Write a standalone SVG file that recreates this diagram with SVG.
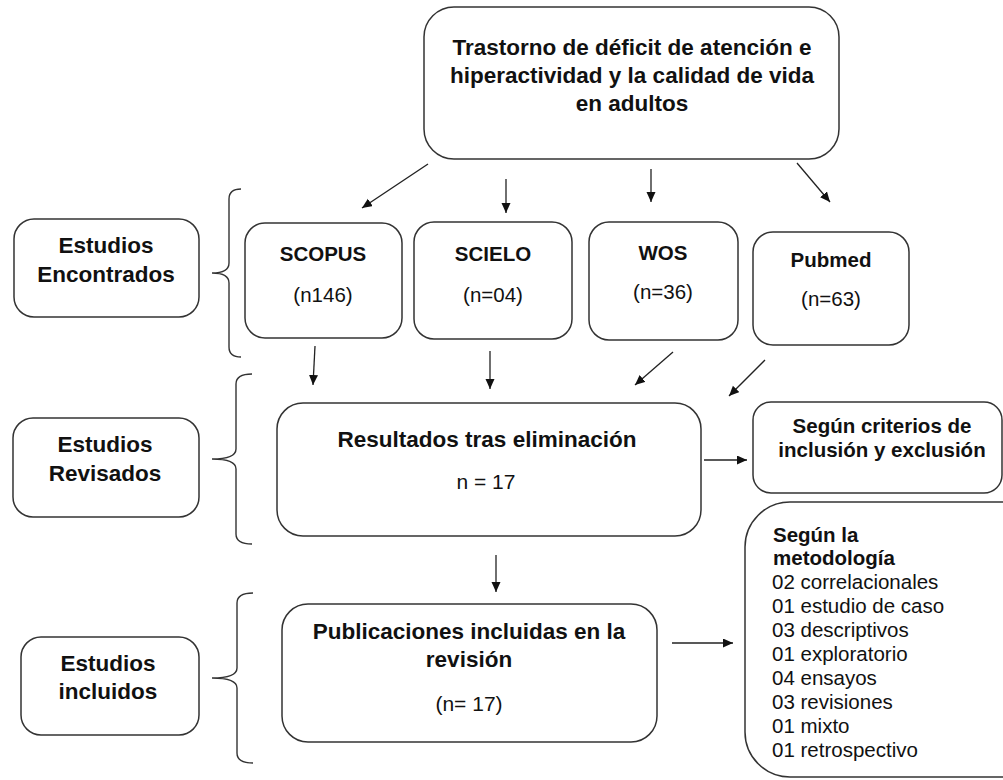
<svg xmlns="http://www.w3.org/2000/svg" width="1003" height="780" viewBox="0 0 1003 780">
<style>
.box{fill:#fff;stroke:#333;stroke-width:1.5}
.br{fill:none;stroke:#333;stroke-width:1.4}
.ln{fill:none;stroke:#222;stroke-width:1.3;marker-end:url(#ah)}
text{font-family:"Liberation Sans",Arial,sans-serif;fill:#111}
.b{font-weight:bold;font-size:22.5px}
.bs{font-weight:bold;font-size:20.5px}
.r{font-size:21px}
.rs{font-size:20.5px}
.c{text-anchor:middle}
</style>
<defs>
<marker id="ah" markerUnits="userSpaceOnUse" markerWidth="11" markerHeight="10" refX="10" refY="4.5" orient="auto">
<path d="M0,0 L10,4.5 L0,9 z" fill="#111"/>
</marker>
</defs>
<rect width="1003" height="780" fill="#fff"/>

<g id="top">
<rect class="box" x="424" y="7" width="415" height="152" rx="30"/>
<text class="b c" x="632" y="55">Trastorno de déficit de atención e</text>
<text class="b c" x="632" y="83">hiperactividad y la calidad de vida</text>
<text class="b c" x="632" y="111">en adultos</text>
</g>

<g id="enc">
<rect class="box" x="14" y="219" width="185" height="98" rx="20"/>
<text class="b c" x="106" y="253">Estudios</text>
<text class="b c" x="106" y="282">Encontrados</text>
</g>

<g id="rev">
<rect class="box" x="13" y="418" width="186" height="99" rx="20"/>
<text class="b c" x="105" y="452">Estudios</text>
<text class="b c" x="105" y="481">Revisados</text>
</g>

<g id="inc">
<rect class="box" x="21" y="637" width="178" height="98" rx="20"/>
<text class="b c" x="108" y="671">Estudios</text>
<text class="b c" x="108" y="699">incluidos</text>
</g>

<g id="scopus">
<rect class="box" x="245" y="223" width="157" height="115" rx="20"/>
<text class="bs c" x="323" y="261">SCOPUS</text>
<text class="rs c" x="323" y="302">(n146)</text>
</g>

<g id="scielo">
<rect class="box" x="414" y="222" width="158" height="117" rx="20"/>
<text class="bs c" x="493" y="261">SCIELO</text>
<text class="rs c" x="493" y="302">(n=04)</text>
</g>

<g id="wos">
<rect class="box" x="589" y="222" width="149" height="118" rx="20"/>
<text class="bs c" x="663" y="260">WOS</text>
<text class="rs c" x="663" y="299">(n=36)</text>
</g>

<g id="pubmed">
<rect class="box" x="753" y="232" width="156" height="113" rx="20"/>
<text class="bs c" x="831" y="267">Pubmed</text>
<text class="rs c" x="831" y="306">(n=63)</text>
</g>

<g id="resultados">
<rect class="box" x="277" y="403" width="424" height="133" rx="26"/>
<text class="b c" x="487" y="447">Resultados tras eliminación</text>
<text class="r c" x="486" y="489">n = 17</text>
</g>

<g id="criterios">
<rect class="box" x="753" y="402" width="249" height="91" rx="18"/>
<text class="bs c" x="882" y="433">Según criterios de</text>
<text class="bs c" x="882" y="457">inclusión y exclusión</text>
</g>

<g id="publicaciones">
<rect class="box" x="282" y="604" width="375" height="138" rx="26"/>
<text class="b c" x="469" y="639">Publicaciones incluidas en la</text>
<text class="b c" x="469" y="667">revisión</text>
<text class="r c" x="469" y="711">(n= 17)</text>
</g>

<g id="metodologia">
<rect class="box" x="745" y="502" width="300" height="275" rx="45"/>
<text class="bs" x="773" y="542">Según la</text>
<text class="bs" x="773" y="565">metodología</text>
<text class="rs" x="772" y="589">02 correlacionales</text>
<text class="rs" x="772" y="613">01 estudio de caso</text>
<text class="rs" x="772" y="637">03 descriptivos</text>
<text class="rs" x="772" y="661">01 exploratorio</text>
<text class="rs" x="772" y="685">04 ensayos</text>
<text class="rs" x="772" y="709">03 revisiones</text>
<text class="rs" x="772" y="733">01 mixto</text>
<text class="rs" x="772" y="757">01 retrospectivo</text>
</g>

<g id="brackets">
<path class="br" d="M241,189 Q229,189 229,199 L229,263 Q229,273 212,273 Q229,273 229,283 L229,347 Q229,357 241,357"/>
<path class="br" d="M252,374 Q236,374 236,384 L236,449 Q236,459 212,459 Q236,459 236,469 L236,534 Q236,544 252,544"/>
<path class="br" d="M253,593 Q237,593 237,603 L237,668 Q237,678 212,678 Q237,678 237,688 L237,753 Q237,763 253,763"/>
</g>

<g id="connectors">
<line class="ln" x1="428" y1="164" x2="362" y2="208"/>
<line class="ln" x1="506" y1="179" x2="506" y2="213"/>
<line class="ln" x1="651" y1="169" x2="651" y2="202"/>
<line class="ln" x1="797" y1="163" x2="830" y2="202"/>
<line class="ln" x1="315" y1="346" x2="313" y2="385"/>
<line class="ln" x1="490" y1="351" x2="490" y2="389"/>
<line class="ln" x1="673" y1="352" x2="635" y2="385"/>
<line class="ln" x1="765" y1="360" x2="729" y2="396"/>
<line class="ln" x1="704" y1="460" x2="747" y2="460"/>
<line class="ln" x1="496" y1="555" x2="496" y2="592"/>
<line class="ln" x1="672" y1="643" x2="733" y2="643"/>
</g>
</svg>
